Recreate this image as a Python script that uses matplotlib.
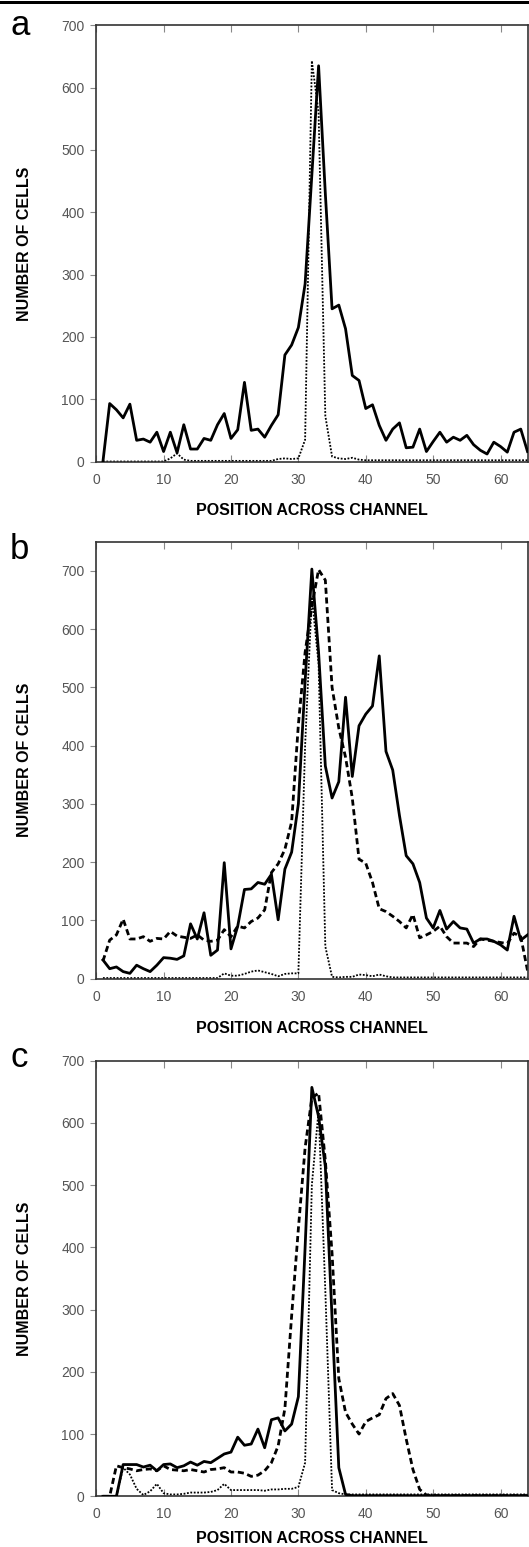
import numpy as np
import matplotlib.pyplot as plt
from matplotlib.patches import Rectangle

plt.rcParams['font.family'] = ['Liberation Sans', 'DejaVu Sans']

# position across the channel (bins 1..64)
pos = np.arange(1, 65)

# panel a
a_solid = [0, 93, 83, 70, 92, 34, 36, 31, 47, 16, 47, 14, 59, 20, 20, 37,
           34, 59, 77, 37, 51, 127, 50, 52, 39, 58, 75, 171, 187, 215, 285, 460,
           635, 430, 245, 251, 213, 138, 130, 85, 91, 58, 34, 52, 62, 22,
           23, 52, 16, 32, 47, 31, 39, 34, 42, 27, 18, 12, 31, 24, 15, 47, 52, 16]
a_dot = [0, 0, 0, 0, 0, 0, 0, 0, 0, 0, 5, 13, 3, 1, 1, 1,
         1, 1, 1, 1, 1, 1, 1, 1, 1, 1, 4, 5, 4, 5, 35, 643,
         560, 73, 8, 5, 4, 6, 3, 2, 2, 2, 2, 2, 2, 2,
         2, 2, 2, 2, 2, 2, 2, 2, 2, 2, 2, 2, 2, 2, 2, 2, 2, 2]

# panel b
b_solid = [32, 17, 20, 12, 9, 23, 17, 12, 23, 36, 35, 33, 39, 94, 68, 113,
           40, 49, 199, 51, 90, 153, 154, 165, 162, 179, 101, 188, 217, 300, 510, 703,
           560, 365, 310, 338, 483, 347, 434, 454, 468, 554, 390, 358, 280, 211,
           197, 165, 104, 87, 117, 85, 98, 87, 85, 61, 68, 68, 64, 58, 49, 107, 66, 75]
b_dash = [30, 66, 75, 102, 68, 68, 72, 64, 69, 68, 81, 73, 71, 69, 75, 66,
          64, 66, 84, 72, 90, 87, 98, 104, 118, 182, 197, 222, 269, 436, 560, 640,
          702, 684, 500, 430, 380, 310, 205, 198, 165, 120, 115, 107, 98, 87,
          110, 70, 75, 81, 90, 72, 61, 61, 61, 55, 68, 66, 64, 62, 60, 78, 72, 14]
b_dot = [1, 1, 1, 1, 1, 1, 1, 1, 1, 1, 1, 1, 1, 1, 1, 1,
         1, 1, 9, 5, 5, 8, 12, 14, 11, 8, 4, 8, 9, 9, 400, 655,
         540, 55, 3, 2, 3, 3, 7, 6, 4, 7, 4, 2, 2, 2,
         2, 2, 2, 2, 2, 2, 2, 2, 2, 2, 2, 2, 2, 2, 2, 2, 2, 2]

# panel c
c_solid = [0, 0, 0, 51, 51, 51, 47, 50, 41, 51, 52, 46, 49, 55, 50, 56,
           54, 61, 68, 71, 95, 82, 84, 108, 78, 123, 126, 105, 116, 160, 400, 657,
           610, 530, 286, 46, 3, 1, 1, 1, 1, 1, 1, 1, 1, 1,
           1, 1, 1, 1, 1, 1, 1, 1, 1, 1, 1, 1, 1, 1, 1, 1, 1, 1]
c_dash = [0, 0, 49, 46, 44, 41, 43, 44, 41, 49, 43, 42, 41, 43, 41, 39,
          43, 44, 46, 39, 39, 37, 32, 34, 41, 54, 81, 141, 290, 430, 560, 640,
          648, 540, 390, 189, 135, 116, 100, 120, 126, 131, 157, 165, 146, 92,
          43, 11, 2, 1, 1, 1, 1, 1, 1, 1, 1, 1, 1, 1, 1, 1, 1, 1]
c_dot = [0, 0, 0, 46, 35, 12, 2, 8, 20, 5, 3, 3, 4, 6, 6, 6,
         7, 10, 20, 10, 10, 10, 10, 10, 9, 11, 11, 12, 12, 15, 54, 500,
         620, 330, 10, 5, 3, 3, 3, 3, 3, 3, 3, 3, 3, 3,
         3, 3, 3, 3, 3, 3, 3, 3, 3, 3, 3, 3, 3, 3, 3, 3, 3, 3]

W, H = 529, 1547
fig = plt.figure(figsize=(W / 100, H / 100), dpi=100)

# thin black rule along the top edge
fig.add_artist(Rectangle((0, 1 - 4 / H), 1, 3 / H, transform=fig.transFigure,
                         color='black', lw=0))

left, right = 96.2, 527.5
# letter, axes top px, axes bottom px, ymax, letter baseline px, xlabel offset px, series
panels = [
    ('a', 25.3, 461.5, 700, 35.4, 49, [(a_solid, 'solid'), (a_dot, 'dot')]),
    ('b', 541.7, 978.6, 750, 559.3, 50, [(b_solid, 'solid'), (b_dash, 'dash'), (b_dot, 'dot')]),
    ('c', 1060.6, 1496.3, 700, 1067.4, 42, [(c_solid, 'solid'), (c_dash, 'dash'), (c_dot, 'dot')]),
]

for letter, top, bot, ymax, base, xl_off, series in panels:
    ax = fig.add_axes([left / W, 1 - bot / H, (right - left) / W, (bot - top) / H])
    for vals, kind in series:
        if kind == 'solid':
            ax.plot(pos, vals, color='black', lw=2.0, zorder=3)
        elif kind == 'dash':
            ax.plot(pos, vals, color='black', lw=2.0, dashes=(2.2, 1.3), zorder=2)
        else:
            ax.plot(pos, vals, color='black', lw=1.3, dashes=(1, 0.9), zorder=2)
    ax.set_xlim(0, 64)
    ax.set_ylim(0, ymax)
    ax.set_xticks(range(0, 61, 10))
    ax.set_yticks(range(0, 701, 100))
    ax.tick_params(axis='x', direction='in', top=True, length=5, width=0.8,
                   color='#888888', labelsize=10, labelcolor='#555555', pad=8)
    ax.tick_params(axis='y', direction='out', length=4.5, width=0.8,
                   color='#888888', labelsize=10, labelcolor='#555555', pad=4)
    for sp in ax.spines.values():
        sp.set_color('#333333')
        sp.set_linewidth(1.2)
    ax.set_xlabel('POSITION ACROSS CHANNEL', fontsize=11.5, fontweight='bold')
    ax.set_ylabel('NUMBER OF CELLS', fontsize=11.5, fontweight='bold')
    ax.xaxis.set_label_coords(0.5, -xl_off / (bot - top))
    ax.xaxis.label.set_va('center')
    ax.yaxis.set_label_coords(-(96.2 - 25) / (right - left), 0.5)
    ax.yaxis.label.set_va('center')
    fig.text(10 / W, 1 - base / H, letter, fontsize=25, va='baseline', ha='left')

fig.savefig('out.png', dpi=100)
